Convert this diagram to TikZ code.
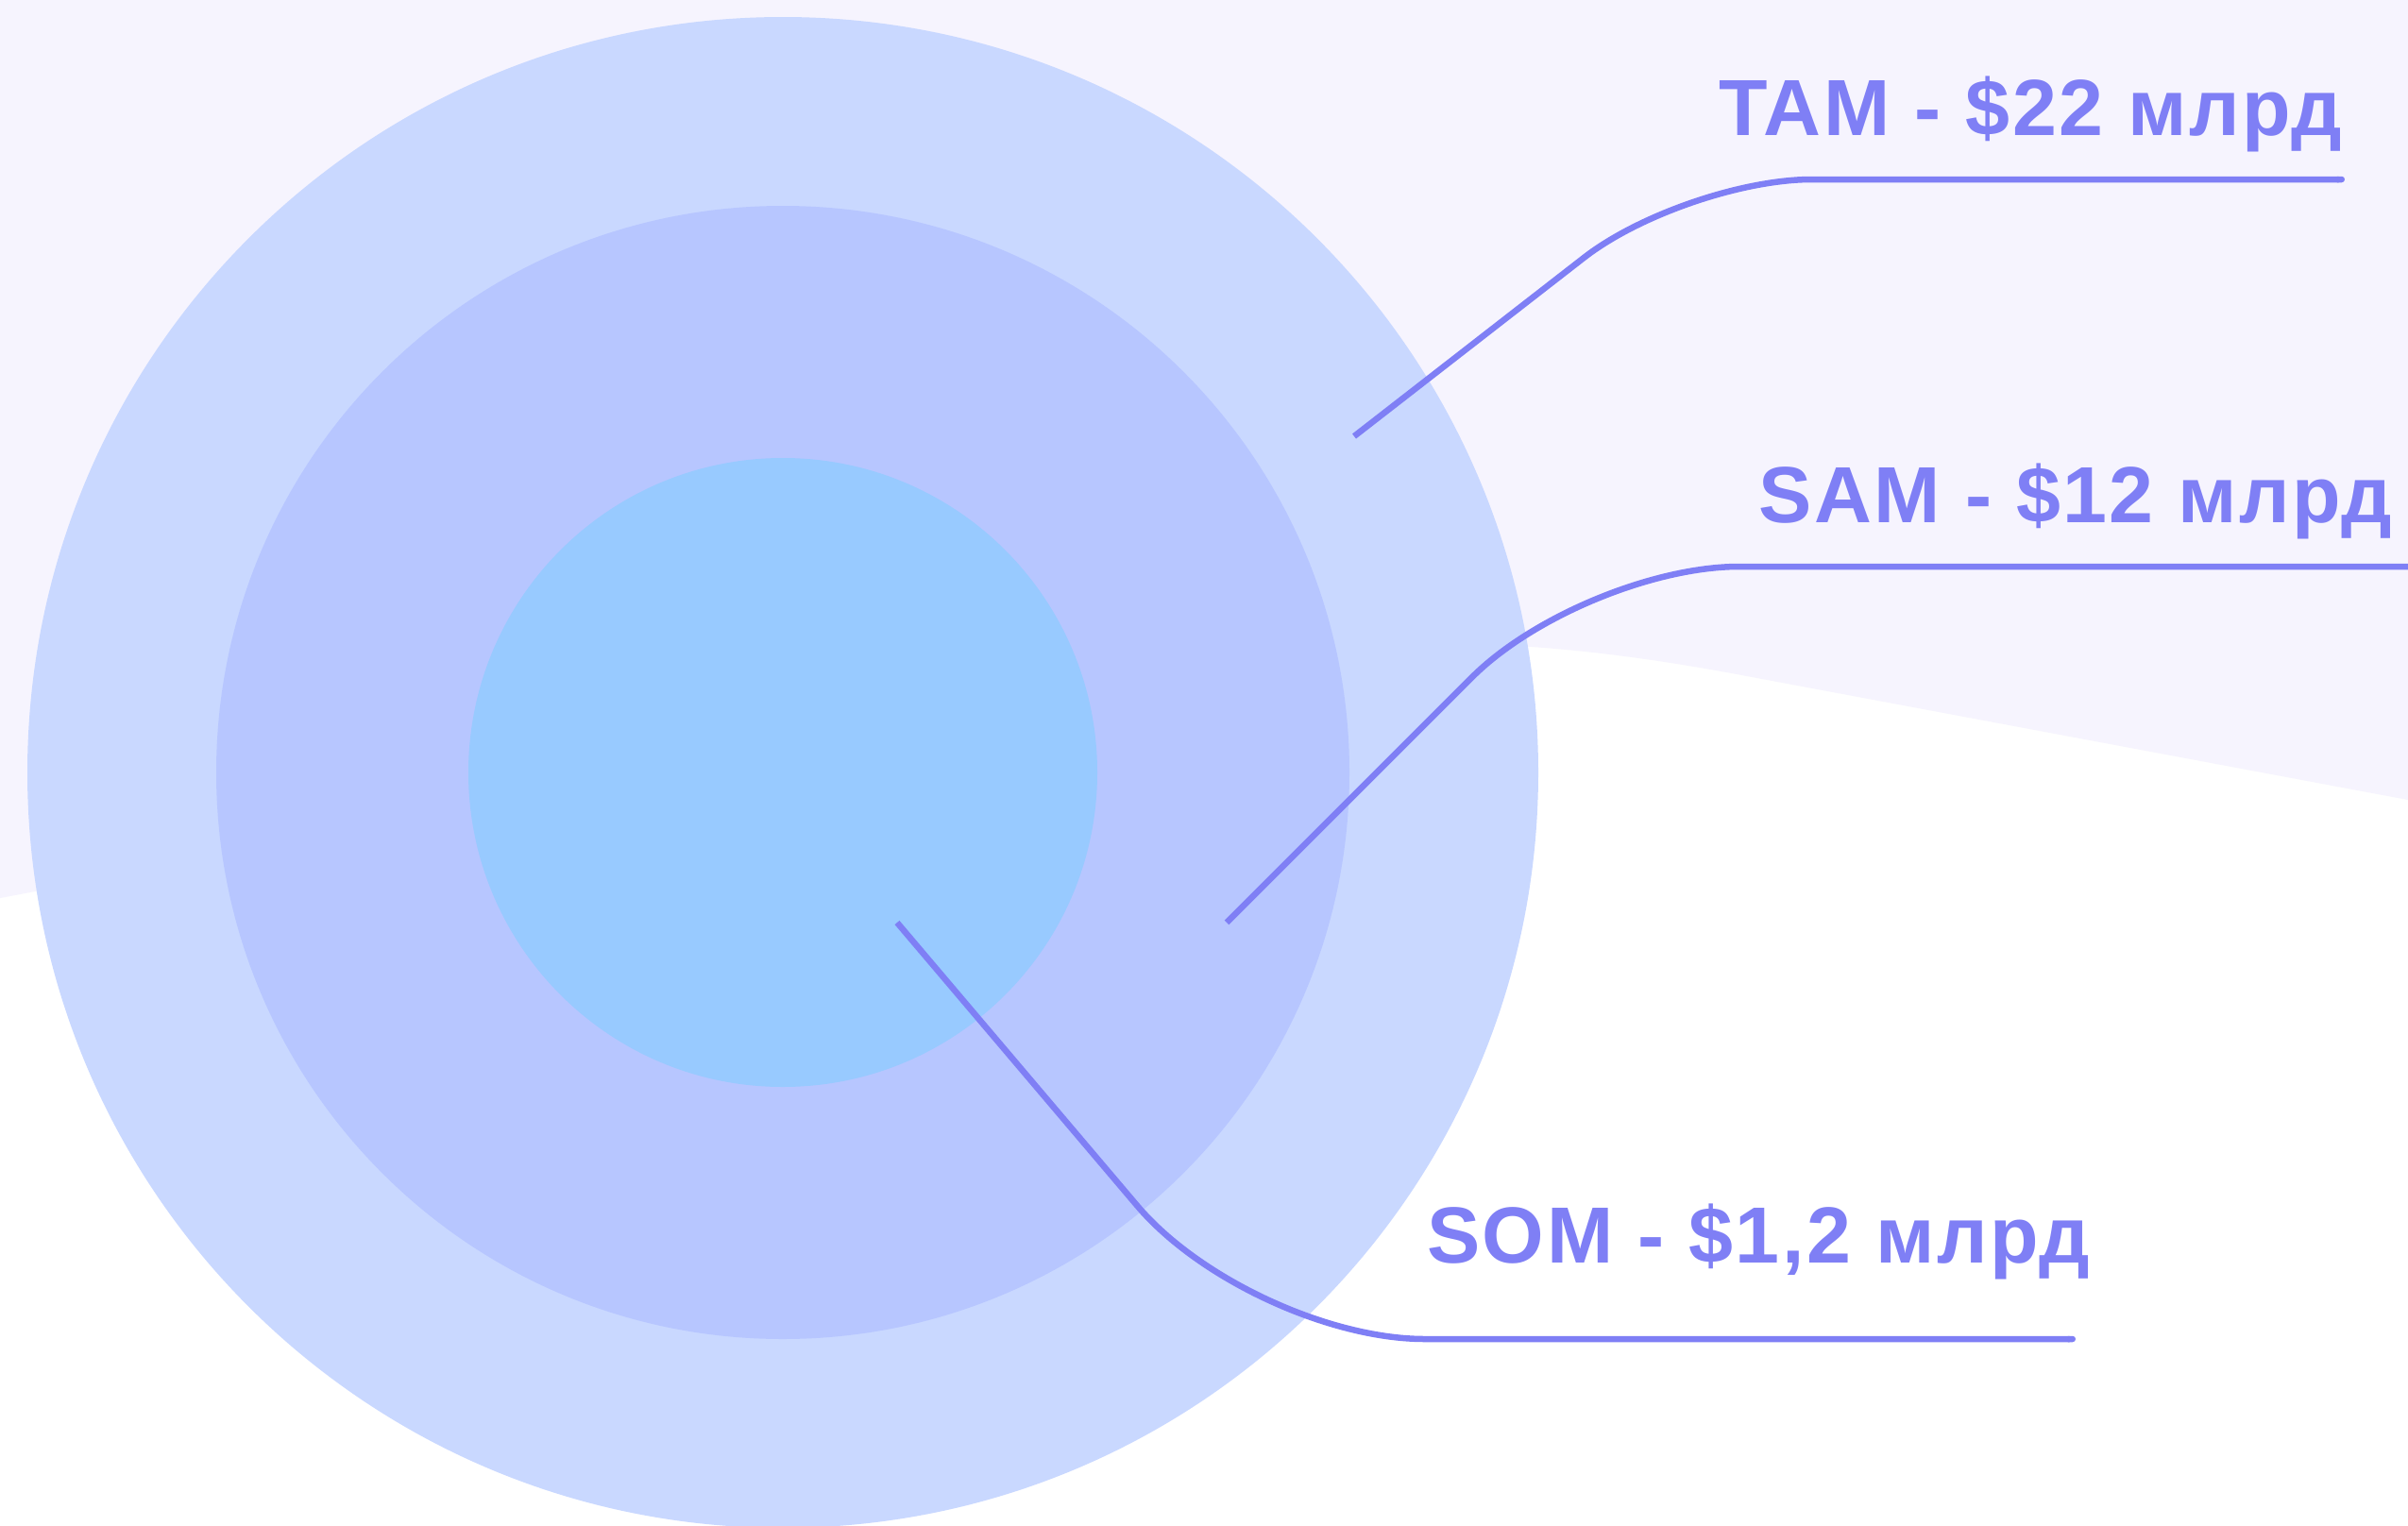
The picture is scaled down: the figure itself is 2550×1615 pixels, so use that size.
\documentclass[tikz,border=0pt]{standalone}
\usepackage{fontspec}
\setmainfont{Liberation Sans}[LetterSpace=3]
\usetikzlibrary{arrows.meta}
\definecolor{bglav}{HTML}{F6F4FE}
\definecolor{cbig}{HTML}{C9D8FF}
\definecolor{cmid}{HTML}{B7C6FF}
\definecolor{cin}{HTML}{98CAFF}
\definecolor{accent}{HTML}{7F7FF5}
\begin{document}
\begin{tikzpicture}[x=0.1mm,y=-0.1mm,
  connector/.style={draw=accent,line width=0.65mm,line cap=butt,-{Round Cap}},
  label/.style={text=accent,font=\fontsize{24}{28}\selectfont\bfseries,anchor=base,inner sep=0pt}]
\clip (0,0) rectangle (2550,1615);
\fill[white] (0,0) rectangle (2550,1615);
\fill[bglav] (0,0) -- (2550,0) -- (2550,847) -- (1850,716)
  .. controls (1650,678) and (1500,672) .. (1350,696) -- (0,951) -- cycle;
\fill[cbig] (829,818) circle[radius=80mm];
\fill[cmid] (829,818) circle[radius=60mm];
\fill[cin] (829,818) circle[radius=33.3mm];
% connectors
\coordinate (tamS) at (1434,462);
\coordinate (tamC) at (1784,190);
\coordinate (tamE) at (2483,190);
\coordinate (samS) at (1299,977);
\coordinate (samC) at (1676,600);
\coordinate (samE) at (2560,600);
\coordinate (somS) at (950,977);
\coordinate (somC) at (1324,1418);
\coordinate (somE) at (2198,1418);
\path[connector,rounded corners=13.5mm] (tamS) -- (tamC) -- (tamE);
\path[connector,rounded corners=16.6mm] (samS) -- (samC) -- (samE);
\path[connector,rounded corners=18.5mm] (somS) -- (somC) -- (somE);
% labels
\node[label] (tam) at (2150,143) {TAM - \$22 млрд};
\node[label] (sam) at (2198,553) {SAM - \$12 млрд};
\node[label] (som) at (1862,1337) {SOM - \$1,2 млрд};
\end{tikzpicture}
\end{document}
